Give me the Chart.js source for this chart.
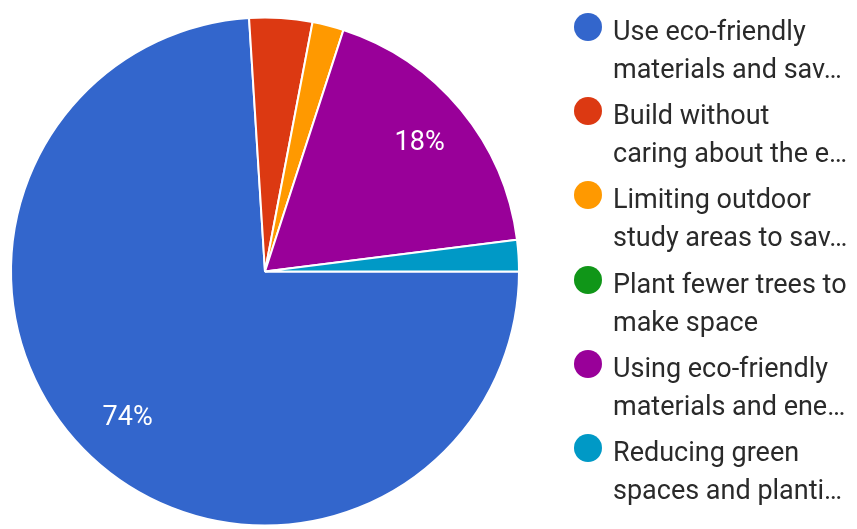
<!DOCTYPE html>
<html>
<head>
<meta charset="utf-8">
<script src="https://cdn.jsdelivr.net/npm/chart.js@4/dist/chart.umd.min.js"></script>
<style>
  html, body { margin: 0; padding: 0; background: #fff; }
  #wrap { position: relative; width: 857px; height: 529px; overflow: hidden; }
  #pie-box { position: absolute; left: 0; top: 0; width: 530px; height: 529px; }
  #legend { position: absolute; left: 0; top: 0; width: 857px; height: 529px; pointer-events: none; }
  .lg-item { position: absolute; left: 574px; }
  .lg-dot { position: absolute; left: 0; top: 1px; width: 28px; height: 28px; border-radius: 50%; }
  .lg-text {
    margin-left: 39px; font-family: Roboto, "Noto Sans", sans-serif; font-size: 27px;
    line-height: 38px; color: #2a2a2a; white-space: nowrap;
  }
</style>
</head>
<body>
<div id="wrap">
  <div id="pie-box"><canvas id="pie"></canvas></div>
  <div id="legend"></div>
</div>
<script>
// Survey answers (50 responses)
const labels = [
  "Use eco-friendly materials and sav…",
  "Build without caring about the e…",
  "Limiting outdoor study areas to sav…",
  "Plant fewer trees to make space",
  "Using eco-friendly materials and ene…",
  "Reducing green spaces and planti…",
];
const legendLines = [
  ["Use eco-friendly", "materials and sav…"],
  ["Build without", "caring about the e…"],
  ["Limiting outdoor", "study areas to sav…"],
  ["Plant fewer trees to", "make space"],
  ["Using eco-friendly", "materials and ene…"],
  ["Reducing green", "spaces and planti…"],
];
const responses = [37, 2, 1, 0, 9, 1];
const colors = ["#3366cc", "#dc3912", "#ff9900", "#109618", "#990099", "#0099c6"];

// percentage labels inside the larger slices
const sliceLabels = {
  id: "sliceLabels",
  afterDatasetsDraw(chart) {
    const ctx = chart.ctx;
    const meta = chart.getDatasetMeta(0);
    const total = responses.reduce((a, b) => a + b, 0);
    ctx.save();
    ctx.fillStyle = "#ffffff";
    ctx.font = "27px Roboto";
    ctx.textAlign = "center";
    ctx.textBaseline = "middle";
    meta.data.forEach((arc, i) => {
      const pct = responses[i] / total * 100;
      if (pct < 5) return;
      const p = arc.getProps(["x", "y", "startAngle", "endAngle", "outerRadius"], true);
      const mid = (p.startAngle + p.endAngle) / 2;
      const r = p.outerRadius * 0.79;
      ctx.fillText(Math.round(pct) + "%", p.x + Math.cos(mid) * r, p.y + Math.sin(mid) * r);
    });
    ctx.restore();
  },
};

new Chart(document.getElementById("pie"), {
  type: "pie",
  data: {
    labels,
    datasets: [{
      data: responses,
      backgroundColor: colors,
      borderColor: "#ffffff",
      borderWidth: 2,
      radius: 254,
      hoverOffset: 0,
    }],
  },
  options: {
    responsive: true,
    maintainAspectRatio: false,
    animation: false,
    rotation: 90,
    layout: { padding: { left: 12, right: 12, top: 19, bottom: 5 } },
    plugins: {
      legend: { display: false },
      tooltip: { enabled: false },
    },
  },
  plugins: [sliceLabels],
});

// legend on the right, two lines per entry
const legend = document.getElementById("legend");
legendLines.forEach((lines, i) => {
  const item = document.createElement("div");
  item.className = "lg-item";
  item.style.top = (12 + i * 84.2) + "px";
  const dot = document.createElement("div");
  dot.className = "lg-dot";
  dot.style.background = colors[i];
  const text = document.createElement("div");
  text.className = "lg-text";
  lines.forEach(l => {
    const d = document.createElement("div");
    d.textContent = l;
    text.appendChild(d);
  });
  item.appendChild(dot);
  item.appendChild(text);
  legend.appendChild(item);
});
</script>
</body>
</html>
